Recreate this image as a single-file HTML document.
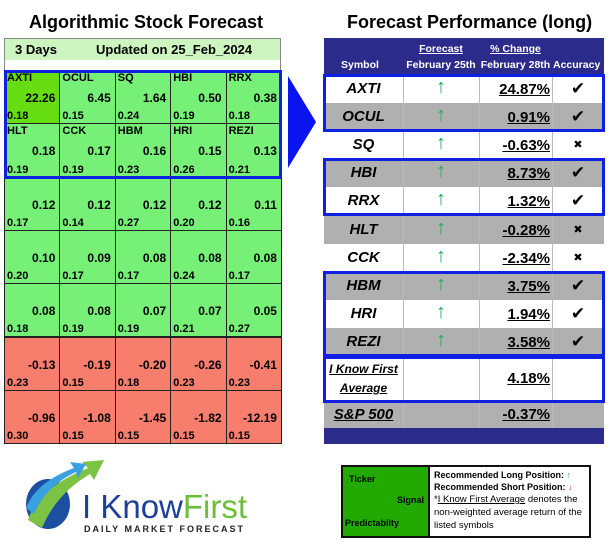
<!DOCTYPE html>
<html><head><meta charset="utf-8">
<style>
body{margin:0;width:612px;height:545px;background:#fff;position:relative;overflow:hidden;font-family:"Liberation Sans",Arial,sans-serif}
.a{position:absolute;box-sizing:border-box}
.t{font-weight:bold;font-size:18px;white-space:nowrap}
.cell{border:1px solid #222;font-weight:bold;font-size:11px}
.sym{position:absolute;left:2px;top:1px}
.sig{position:absolute;right:4px;top:20px;font-size:12px}
.pred{position:absolute;left:2px;bottom:1px}
</style></head>
<body>
<div class="a t" style="left:29px;top:12px">Algorithmic Stock Forecast</div>
<div class="a t" style="left:347px;top:12px">Forecast Performance (long)</div>

<div class="a" style="left:4px;top:38px;width:277px;height:32px;border:1px solid #888;border-bottom:none;background:#fff">
 <div class="a" style="left:0;top:0;width:275px;height:21px;background:#ccf5c0;font-weight:bold;font-size:13px">
  <span style="position:absolute;left:10px;top:3px">3 Days</span>
  <span style="position:absolute;left:91px;top:3px">Updated on 25_Feb_2024</span>
 </div>
</div>
<div id="grid"></div>

<svg class="a" style="left:287px;top:76px" width="30" height="92"><polygon points="1,0 29,46 1,92" fill="#0a14f0"/></svg>

<div id="tbl"></div>

<svg class="a" style="left:18px;top:458px" width="250" height="80">
 <ellipse cx="30" cy="46" rx="22" ry="25" fill="#1d4fa0"/>
 <path d="M10,62 Q20,30 70,10 L64,4 L86,2 L76,22 L72,16 Q38,36 24,70 Z" fill="#7cc243"/>
 <path d="M8,50 Q18,24 56,10 L52,4 L68,6 L60,20 L58,14 Q28,28 16,56 Z" fill="#3aa0e0"/>
 <text x="64" y="60" font-family="Liberation Sans" font-size="33" fill="#1d3f96">I Know<tspan fill="#6cbf3a">First</tspan></text>
 <text x="66" y="74" font-family="Liberation Sans" font-size="9" font-weight="bold" letter-spacing="2" fill="#222">DAILY MARKET FORECAST</text>
</svg>

<div class="a" style="left:341px;top:465px;width:250px;height:73px;border:2px solid #111;font-size:9px;font-weight:bold">
 <div class="a" style="left:0;top:0;width:87px;height:69px;background:#22aa00;border-right:2px solid #111">
  <span style="position:absolute;left:6px;top:7px">Ticker</span>
  <span style="position:absolute;right:4px;top:28px">Signal</span>
  <span style="position:absolute;left:2px;top:51px">Predictabilty</span>
 </div>
 <div class="a" style="left:91px;top:2px;width:156px;line-height:12px">
  <div>Recommended Long Position: <span style="color:#2a9">↑</span></div>
  <div>Recommended Short Position: <span style="color:#e33">↓</span></div>
  <div style="font-weight:normal;line-height:13px;font-size:9.5px">*<u>I Know First Average</u> denotes the non-weighted average return of the listed symbols</div>
 </div>
</div>

<script>
const symbols=["AXTI","OCUL","SQ","HBI","RRX","HLT","CCK","HBM","HRI","REZI"];
const signals=["22.26","6.45","1.64","0.50","0.38","0.18","0.17","0.16","0.15","0.13","0.12","0.12","0.12","0.12","0.11","0.10","0.09","0.08","0.08","0.08","0.08","0.08","0.07","0.07","0.05","-0.13","-0.19","-0.20","-0.26","-0.41","-0.96","-1.08","-1.45","-1.82","-12.19"];
const predictability=["0.18","0.15","0.24","0.19","0.18","0.19","0.19","0.23","0.26","0.21","0.17","0.14","0.27","0.20","0.16","0.20","0.17","0.17","0.24","0.17","0.18","0.19","0.19","0.21","0.27","0.23","0.15","0.18","0.23","0.23","0.30","0.15","0.15","0.15","0.15"];
const changes=["24.87%","0.91%","-0.63%","8.73%","1.32%","-0.28%","-2.34%","3.75%","1.94%","3.58%"];
const accuracy=[1,1,0,1,1,0,0,1,1,1];
const average="4.18%", spChange="-0.37%";

const grid=document.getElementById('grid');
const gx=4,gy=70,cw=55.4,ch=53.3;
signals.forEach((s,i)=>{
 const r=Math.floor(i/5),c=i%5;
 const d=document.createElement('div');
 
 
 d.className='a cell';
 const v=parseFloat(s);
 d.style.cssText=`left:${gx+c*cw}px;top:${gy+r*ch}px;width:${cw+1}px;height:${ch+1}px;background:${i==0?'#66dd11':(v>=0?'#77f077':'#f77d6d')}`;
 d.innerHTML=(i<symbols.length?`<span class="sym">${symbols[i]}</span>`:'')+`<span class="sig">${s}</span><span class="pred">${predictability[i]}</span>`;
 grid.appendChild(d);
});
const bx=document.createElement('div');bx.className='a';


bx.style.cssText=`left:${gx}px;top:${gy}px;width:${5*cw+1}px;height:${2*ch+2}px;border:3px solid #1020e0`;grid.appendChild(bx);

const tbl=document.getElementById('tbl');
const tx=324,tw=280,cols=[324,403,479,552,604],ty=75,rh=28.1;
function add(html,css,name){const d=document.createElement('div');d.className='a';d.style.cssText=css;d.innerHTML=html;tbl.appendChild(d);return d;}
add(`<div style="position:absolute;left:17px;top:19px">Symbol</div>
<div style="position:absolute;left:79px;top:3px;width:76px;text-align:center"><u>Forecast</u><br>February 25th</div>
<div style="position:absolute;left:153px;top:3px;width:77px;text-align:center"><u>% Change</u><br>February 28th</div>
<div style="position:absolute;left:229px;top:19px">Accuracy</div>`,
`left:${tx}px;top:38px;width:${tw}px;height:37px;background:#2b2b8c;color:#fff;font-weight:bold;font-size:10.5px;line-height:16px`,'table-header');
function rowLines(y,h,bg){add('',`left:${tx}px;top:${y}px;width:${tw}px;height:${h}px;background:${bg}`,'row-bg');
 for(let k=1;k<4;k++)add('',`left:${cols[k]}px;top:${y}px;width:1px;height:${h}px;background:#bbb`,'col-line');}
symbols.forEach((s,i)=>{
 const y=ty+i*rh;
 rowLines(y,rh,i%2?'#b0b0b0':'#fff');
 add(s,`left:${cols[0]}px;top:${y+5}px;width:79px;text-align:center;font-style:italic;font-weight:bold;font-size:15px`,'symbol-'+s.toLowerCase());
 add('<span style="color:#22aa55;font-size:20px">↑</span>',`left:${cols[1]}px;top:${y+1}px;width:76px;text-align:center`,'signal-arrow');
 add('<u>'+changes[i]+'</u>',`left:${cols[2]}px;top:${y+6}px;width:71px;text-align:right;font-weight:bold;font-size:15px`,'change-value');
 add(accuracy[i]?'✔':'✖',`left:${cols[3]}px;top:${y+4}px;width:52px;text-align:center;font-size:${accuracy[i]?17:11}px;line-height:20px`,'accuracy-mark');
});
const ay=ty+10*rh;
rowLines(ay,46,'#fff');
add('<u>I Know First<br>Average</u>',`left:${cols[0]}px;top:${ay+4}px;width:79px;text-align:center;font-style:italic;font-weight:bold;font-size:12px;line-height:19px`,'average-label');
add('<u>'+average+'</u>',`left:${cols[2]}px;top:${ay+14}px;width:71px;text-align:right;font-weight:bold;font-size:15px`,'average-value');
const sy=ay+46;
rowLines(sy,26,'#b0b0b0');
add('<u>S&amp;P 500</u>',`left:${cols[0]}px;top:${sy+4}px;width:79px;text-align:center;font-style:italic;font-weight:bold;font-size:15px`,'sp500-label');
add('<u>'+spChange+'</u>',`left:${cols[2]}px;top:${sy+4}px;width:71px;text-align:right;font-weight:bold;font-size:15px`,'sp500-value');
add('',`left:${tx}px;top:${sy+26}px;width:${tw}px;height:16px;background:#2b2b8c`,'table-footer');
[[0,2],[3,5],[7,10]].forEach(([a,b])=>add('',`left:${tx-1}px;top:${ty+a*rh-1}px;width:${tw+2}px;height:${(b-a)*rh+2}px;border:3px solid #1020e0`,'highlight-box'));
add('',`left:${tx-1}px;top:${ay}px;width:${tw+2}px;height:47px;border:3px solid #1020e0`,'average-box');
</script>
</body></html>
